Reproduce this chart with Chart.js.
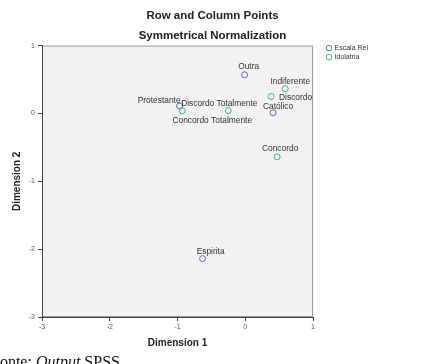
<!DOCTYPE html>
<html>
<head>
<meta charset="utf-8">
<script src="https://cdn.jsdelivr.net/npm/chart.js@4.4.1/dist/chart.umd.min.js"></script>
<style>
  html, body { margin: 0; padding: 0; background: #fff; }
  #wrap { position: relative; width: 439px; height: 364px; overflow: hidden; }
  #fonte { position: absolute; left: -9px; top: 354px; font: 16px 'Liberation Serif', serif; line-height: 1; color: #111; white-space: nowrap; }
</style>
</head>
<body>
<div id="wrap">
  <canvas id="chart" width="439" height="364"></canvas>
  <div id="fonte">Fonte: <i>Output</i> SPSS</div>
</div>
<script>
// Escala Rel (row points)
const rowLabels = ['Outra', 'Protestante', 'Católico', 'Espirita'];
const rowX = [-0.01, -0.97, 0.41, -0.63];
const rowY = [0.57, 0.11, 0.01, -2.14];

// Idolatria (column points)
const colLabels = ['Indiferente', 'Discordo', 'Discordo Totalmente', 'Concordo Totalmente', 'Concordo'];
const colX = [0.59, 0.38, -0.25, -0.93, 0.47];
const colY = [0.365, 0.25, 0.04, 0.04, -0.64];

const axisTicks = [-3, -2, -1, 0, 1];

// where each point label sits relative to its marker: [dx, dy, align]
const rowLabelPos = [[4, -8, 'center'], [1, -5, 'right'], [5, -6, 'center'], [8, -7, 'center']];
const colLabelPos = [[5, -7, 'center'], [8, 1, 'left'], [-9, -7, 'center'], [30, 10, 'center'], [3, -8, 'center']];

const FONT = '"Liberation Sans", Arial, sans-serif';
const TITLE_CENTER = 212.5;

// gray plot background with a thin frame (SPSS style)
const plotFrame = {
    id: 'plotFrame',
    beforeDraw(chart) {
        const { ctx, chartArea: a } = chart;
        ctx.save();
        ctx.fillStyle = '#f2f2f2';
        ctx.fillRect(a.left, a.top, a.right - a.left, a.bottom - a.top);
        ctx.strokeStyle = '#9a9a9a';
        ctx.lineWidth = 1;
        ctx.strokeRect(a.left + 0.5, a.top + 0.5, a.right - a.left - 1, a.bottom - a.top - 1);
        ctx.restore();
    }
};

// point labels
const pointLabels = {
    id: 'pointLabels',
    afterDatasetsDraw(chart) {
        const { ctx } = chart;
        const sets = [[rowLabels, rowLabelPos], [colLabels, colLabelPos]];
        ctx.save();
        ctx.font = '8.4px ' + FONT;
        ctx.fillStyle = '#333';
        ctx.textBaseline = 'middle';
        sets.forEach(([names, pos], d) => {
            chart.getDatasetMeta(d).data.forEach((pt, i) => {
                ctx.textAlign = pos[i][2];
                ctx.fillText(names[i], pt.x + pos[i][0], pt.y + pos[i][1]);
            });
        });
        ctx.restore();
    }
};

// small position tweaks for legend and titles
const nudgeBoxes = {
    id: 'nudgeBoxes',
    afterLayout(chart) {
        chart.boxes.forEach(b => {
            if (b === chart.legend) {
                b.left += 12; b.right += 12;
                b.top -= 3; b.bottom -= 3;
            } else if (b.position === 'top') {
                const dx = TITLE_CENTER - (b.left + b.right) / 2;
                b.left += dx; b.right += dx;
            }
        });
    }
};

function axis(title, isX) {
    return {
        type: 'linear',
        min: -3,
        max: 1,
        afterBuildTicks: s => { s.ticks = axisTicks.map(v => ({ value: v })); },
        afterFit: isX ? (s => { s.height = 47; }) : (s => { s.width = 42; }),
        ticks: { font: { family: FONT, size: 7 }, color: '#555', padding: isX ? 2 : 3 },
        grid: { drawOnChartArea: false, tickLength: 4, color: '#444' },
        border: { color: '#444' },
        title: {
            display: true,
            text: title,
            color: '#222',
            font: { family: FONT, size: 10, weight: 'bold' },
            padding: isX ? { top: 0, bottom: 15 } : { top: 11, bottom: 0 }
        }
    };
}

new Chart(document.getElementById('chart').getContext('2d'), {
    type: 'scatter',
    data: {
        datasets: [{
            label: 'Escala Rel',
            data: rowX.map((x, i) => ({ x: x, y: rowY[i] })),
            borderColor: '#5b6bbd',
            backgroundColor: 'rgba(0,0,0,0)',
            pointRadius: 3,
            borderWidth: 1
        }, {
            label: 'Idolatria',
            data: colX.map((x, i) => ({ x: x, y: colY[i] })),
            borderColor: '#40bf72',
            backgroundColor: 'rgba(0,0,0,0)',
            pointRadius: 3,
            borderWidth: 1
        }]
    },
    options: {
        responsive: false,
        animation: false,
        layout: { padding: { left: 0, top: 0, bottom: 0, right: 73 } },
        plugins: {
            tooltip: { enabled: false },
            title: {
                display: true,
                text: 'Row and Column Points',
                color: '#222',
                font: { family: FONT, size: 11.5, weight: 'bold' },
                padding: { top: 9, bottom: 0 }
            },
            subtitle: {
                display: true,
                text: 'Symmetrical Normalization',
                color: '#222',
                font: { family: FONT, size: 11.5, weight: 'bold' },
                padding: { top: 6, bottom: 3 }
            },
            legend: {
                position: 'right',
                align: 'start',
                fullSize: false,
                labels: {
                    usePointStyle: true,
                    pointStyle: 'circle',
                    boxWidth: 4,
                    boxHeight: 4,
                    padding: 2,
                    color: '#333',
                    font: { family: FONT, size: 7 }
                }
            }
        },
        scales: {
            x: axis('Dimension 1', true),
            y: axis('Dimension 2', false)
        }
    },
    plugins: [plotFrame, pointLabels, nudgeBoxes]
});
</script>
</body>
</html>
